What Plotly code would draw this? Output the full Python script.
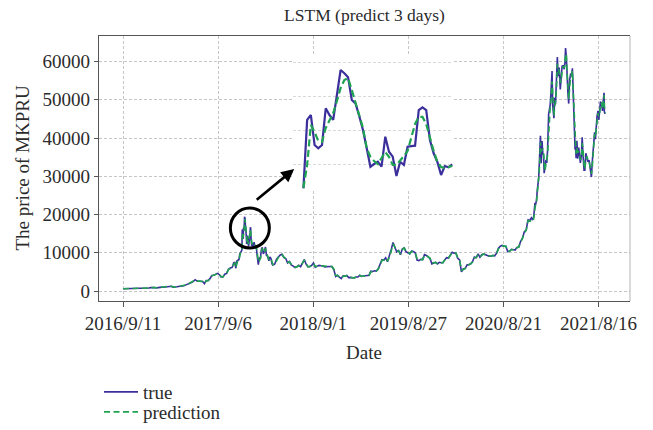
import plotly.graph_objects as go

# ---------------------------------------------------------------
# MKPRU price series, x = day index (day 0 = 2016/9/11)
# ---------------------------------------------------------------

# 2016/9/11 .. 2017/10/29, weekly
days_a = list(range(0, 414, 7))
true_a = [607, 610, 602, 610, 617, 640, 655, 700, 712, 703, 731, 735, 765, 771, 790,
          890, 998, 910, 820, 925, 917, 1015, 998, 1055, 1170, 1270, 1225, 1020, 970,
          1100, 1190, 1180, 1250, 1350, 1600, 1770, 2050, 2200, 2520, 2950, 2600, 2570,
          2500, 2500, 1930, 2750, 2720, 3230, 4050, 4100, 4350, 4600, 4300, 3700, 3670,
          4380, 4610, 5700, 6000, 6150]
pred_a = [605, 609, 604, 608, 615, 634, 650, 690, 708, 705, 726, 734, 758, 770, 786,
          872, 980, 925, 835, 910, 920, 1000, 1002, 1048, 1155, 1258, 1232, 1040, 975,
          1085, 1180, 1183, 1240, 1335, 1570, 1745, 2010, 2180, 2480, 2900, 2640, 2580,
          2510, 2505, 1990, 2700, 2725, 3170, 3960, 4090, 4320, 4570, 4330, 3760, 3665,
          4310, 4590, 5600, 5980, 6130]

# November 2017
days_b1 = [416, 419, 423, 427, 431, 435, 439, 442, 444, 447]
true_b1 = [6750, 7400, 7450, 5950, 7850, 8200, 8250, 9700, 9900, 10300]
pred_b1 = [6600, 7200, 7420, 6200, 7600, 8100, 8230, 9400, 9850, 10200]

# December 2017 - January 2018, daily (this window is also shown enlarged)
inset_days = list(range(450, 491))
inset_true = [10710, 15740, 16100, 13900, 13650, 13900, 16600, 16100, 15740, 17570,
              19410, 19170, 18880, 17210, 16960, 16030, 15000, 13680, 12300, 12500,
              12670, 12300, 14510, 13400, 13040, 11620, 12670, 12430, 13770, 13820,
              13850, 16470, 16670, 16470, 14270, 13290, 12650, 11690, 12350, 12260,
              12480]
inset_pred = [10740, 12430, 15370, 14850, 14190, 14120, 15150, 15740, 16250, 17130,
              18090, 18680, 18820, 17940, 17060, 16180, 15150, 13680, 13020, 12720,
              12500, 12940, 13380, 13020, 12430, 12430, 12720, 13090, 13460, 14410,
              15440, 15960, 15960, 15440, 14340, 13460, 12650, 12280, 12210, 12280,
              12350]

# late January - March 2018
days_b2 = [492, 496, 500, 504, 508, 512, 516, 520, 524, 527, 531, 535, 539, 543, 547,
           552, 556, 560, 564, 567]
true_b2 = [11400, 12800, 11200, 11700, 9100, 6900, 8600, 8600, 11000, 11400, 9700,
           10300, 11500, 9300, 9100, 7900, 8900, 8500, 7100, 6800]
pred_b2 = [11900, 12200, 11900, 11500, 10000, 7600, 7900, 8500, 10200, 11200, 10200,
           10100, 11100, 9900, 9200, 8300, 8500, 8600, 7600, 6950]

# April 2018 - November 2020, weekly
days_c1 = list(range(574, 1541, 7))
true_c1 = [7000, 8300, 8900, 9400, 9600, 8700, 8500, 7350, 7700, 6800,
           6500, 6150, 6350, 6750, 6350, 7400, 8200, 7000, 6300, 6400,
           6700, 7300, 6200, 6500, 6700, 6600, 6600, 6300, 6400, 6350,
           6400, 6400, 5550, 3800, 4100, 3600, 3250, 3950, 3850, 4050,
           3500, 3550, 3550, 3420, 3650, 3650, 4100, 3800, 3920, 4000,
           3990, 4100, 5200, 5100, 5300, 5200, 5800, 7000, 8200, 8050,
           8700, 7650, 9000, 10800, 12700, 11400, 10200, 10600, 9500, 11000,
           11300, 10300, 10100, 9700, 10400, 10300, 10000, 8100, 7950, 8300,
           8200, 9500, 9300, 8800, 8500, 7100, 7400, 7500, 7100, 7500,
           7400, 7400, 8200, 8700, 8600, 9350, 10150, 9900, 9900, 8550,
           8100, 5000, 5800, 5900, 6800, 6900, 7100, 7700, 8900, 8700,
           9700, 8800, 9500, 9700, 9400, 9300, 9100, 9100, 9300, 9200,
           9900, 11200, 11700, 11900, 11700, 11700, 10300, 10400, 10900, 10750,
           10700, 11400, 11500, 13000, 13800, 15500, 15900, 18700, 18200]
pred_c1 = [6950, 7900, 8800, 9250, 9550, 8850, 8450, 7500, 7600, 6950,
           6550, 6200, 6300, 6650, 6400, 7200, 8050, 7150, 6400, 6380,
           6650, 7200, 6350, 6450, 6650, 6620, 6580, 6350, 6390, 6360,
           6390, 6410, 5700, 4100, 4050, 3700, 3300, 3850, 3870, 4000,
           3580, 3540, 3560, 3440, 3620, 3660, 4050, 3850, 3900, 3990,
           3990, 4080, 5000, 5120, 5260, 5230, 5700, 6800, 8000, 8100,
           8600, 7800, 8800, 10400, 12300, 11500, 10400, 10500, 9650, 10800,
           11250, 10450, 10150, 9750, 10300, 10320, 10050, 8400, 8000, 8250,
           8220, 9300, 9350, 8850, 8550, 7300, 7350, 7480, 7150, 7450,
           7420, 7380, 8100, 8650, 8620, 9250, 10050, 9950, 9880, 8700,
           8150, 5400, 5700, 5880, 6650, 6900, 7080, 7600, 8700, 8750,
           9550, 8950, 9400, 9680, 9420, 9320, 9130, 9100, 9280, 9210,
           9800, 11000, 11650, 11850, 11720, 11680, 10500, 10380, 10850, 10760,
           10710, 11300, 11480, 12800, 13750, 15200, 15850, 18400, 18300]

# December 2020 - 2021/9/10
days_c2 = [1542, 1546, 1550, 1554, 1557, 1559, 1562, 1565, 1568, 1570,
           1573, 1575, 1578, 1580, 1583, 1586, 1589, 1592, 1594, 1597,
           1601, 1604, 1607, 1611, 1614, 1617, 1620, 1624, 1626, 1629,
           1631, 1634, 1637, 1641, 1644, 1647, 1651, 1655, 1658, 1662,
           1666, 1670, 1673, 1675, 1678, 1680, 1684, 1687, 1690, 1694,
           1698, 1701, 1704, 1707, 1711, 1713, 1715, 1718, 1721, 1725,
           1728, 1731, 1735, 1738, 1741, 1745, 1748, 1752, 1756, 1760,
           1764, 1768, 1771, 1773, 1776, 1779, 1783, 1785, 1788, 1791,
           1794, 1798, 1801, 1804, 1807, 1811, 1815, 1818, 1821, 1822,
           1825]
true_c2 = [18800, 19150, 18550, 19200, 21300, 22800, 22700, 23700, 26300, 27100,
           29300, 32000, 36800, 40600, 33400, 39200, 36000, 35500, 30800, 32300,
           34300, 33500, 36900, 46200, 47900, 48700, 52100, 57500, 48800, 46300,
           45200, 50500, 48800, 56000, 61200, 56200, 58400, 52700, 55900, 58800,
           58900, 58000, 59800, 63500, 61300, 56200, 51700, 49000, 55000, 56600,
           56400, 58200, 49500, 46800, 37000, 37300, 34700, 39300, 34600, 37500,
           35500, 33500, 35500, 40200, 35800, 31600, 31600, 36000, 34800, 33800,
           34200, 31800, 31500, 29800, 33600, 37300, 40000, 41500, 39700, 44600,
           45600, 47100, 44700, 47000, 49500, 49000, 47100, 50000, 51800, 46800,
           46300]
pred_c2 = [18300, 19000, 18900, 18800, 20200, 22100, 23000, 23300, 25200, 26800,
           28500, 30800, 34500, 38900, 36500, 36800, 37200, 35800, 32500, 31400,
           33200, 34000, 35600, 42000, 46800, 48200, 50300, 54800, 52600, 47800,
           45800, 48200, 49600, 53100, 59400, 58300, 57300, 54800, 54500, 57600,
           58700, 58400, 59100, 61800, 62000, 58400, 53400, 50200, 52600, 55800,
           56500, 57600, 52600, 48100, 40500, 37200, 35900, 37400, 36300, 36400,
           36100, 34300, 34600, 38600, 37300, 33200, 31900, 34200, 35200, 34200,
           34000, 32600, 31700, 30600, 32200, 35700, 38800, 41000, 40300, 42800,
           45200, 46500, 45600, 46200, 48600, 49200, 47600, 49100, 51200, 48400,
           46600]

days = days_a + days_b1 + inset_days + days_b2 + days_c1 + days_c2
true_price = true_a + true_b1 + inset_true + true_b2 + true_c1 + true_c2
pred_price = pred_a + pred_b1 + inset_pred + pred_b2 + pred_c1 + pred_c2

tick_days = [0, 360, 720, 1080, 1440, 1800]
tick_labels = ["2016/9/11", "2017/9/6", "2018/9/1", "2019/8/27", "2020/8/21", "2021/8/16"]
price_ticks = [0, 10000, 20000, 30000, 40000, 50000, 60000]
inset_ticks = [12500, 15000, 17500, 20000]

TRUE_COLOR = "#3b2f9c"
PRED_COLOR = "#1fa352"
SERIF = "Liberation Serif"
TEXT = "#2b2b2b"
FS = 19

fig = go.Figure()

fig.add_trace(go.Scatter(x=days, y=true_price, mode="lines", name="true",
                         legend="legend",
                         line=dict(color=TRUE_COLOR, width=1.6)))
fig.add_trace(go.Scatter(x=days, y=pred_price, mode="lines", name="prediction",
                         legend="legend2",
                         line=dict(color=PRED_COLOR, width=1.6, dash="6px,3.5px")))

# enlarged view of the December 2017 peak
fig.add_trace(go.Scatter(x=inset_days, y=inset_true, mode="lines", showlegend=False,
                         line=dict(color=TRUE_COLOR, width=2.2),
                         xaxis="x2", yaxis="y2"))
fig.add_trace(go.Scatter(x=inset_days, y=inset_pred, mode="lines", showlegend=False,
                         line=dict(color=PRED_COLOR, width=2.2, dash="7px,3.5px"),
                         xaxis="x2", yaxis="y2"))

grid = dict(showgrid=True, gridcolor="#c6c6c6", gridwidth=1, griddash="3px,2px",
            zeroline=False)

legend_common = dict(xanchor="left", yanchor="middle", bgcolor="rgba(0,0,0,0)",
                     font=dict(size=FS, color=TEXT), itemwidth=34)

fig.update_layout(
    width=653, height=430,
    margin=dict(l=99, r=23, t=36, b=129, autoexpand=False),
    paper_bgcolor="white", plot_bgcolor="white",
    font=dict(family=SERIF, size=FS, color=TEXT),
    title=dict(text="LSTM (predict 3 days)", x=(364.5 / 653), xanchor="center",
               y=1 - 15 / 430, yanchor="middle", font=dict(size=17.5, color=TEXT)),
    xaxis=dict(range=[-91, 1919], tickmode="array", tickvals=tick_days, ticktext=tick_labels,
               ticks="outside", ticklen=5, tickcolor="#555", showline=True, linecolor="#555",
               linewidth=1.2, mirror=True, tickfont=dict(size=FS), **grid),
    yaxis=dict(range=[-2614, 66667], tickmode="array", tickvals=price_ticks,
               tickformat="d", ticks="outside", ticklen=4, tickcolor="#555",
               showline=True, linecolor="#555", linewidth=1.2, tickfont=dict(size=FS),
               **grid),
    xaxis2=dict(domain=[(293 - 99) / 531, (453 - 99) / 531], anchor="y2",
                range=[447.2, 490.2], showgrid=False, showticklabels=False,
                ticks="", showline=False, zeroline=False),
    yaxis2=dict(domain=[(301 - 191) / 265, (301 - 55) / 265], anchor="x2",
                range=[10515, 20515], tickmode="array", tickvals=inset_ticks,
                showticklabels=False, ticks="", showline=False, zeroline=False,
                showgrid=True, gridcolor="#d9d9d9", gridwidth=1, griddash="3px,2px"),
    legend=dict(x=0.0, y=(301 - 392) / 265, **legend_common),
    legend2=dict(x=0.0, y=(301 - 412) / 265, **legend_common),
    showlegend=True,
)

# white backing for the enlarged view so the main grid stays hidden behind it
fig.add_shape(type="rect", xref="x2 domain", yref="y2 domain", x0=0, x1=1, y0=0, y1=1,
              fillcolor="white", line=dict(width=0), layer="below")

# light right-hand frame edge
fig.add_shape(type="line", xref="paper", yref="paper", x0=1, x1=1, y0=0, y1=1,
              line=dict(color="#b5b5b5", width=1))

# circle around the December 2017 peak
fig.add_shape(type="circle", xref="x", yref="y", xsizemode="pixel", ysizemode="pixel",
              xanchor=480, yanchor=16470, x0=-19.5, x1=19.5, y0=-20, y1=20,
              line=dict(color="black", width=3))

# arrow pointing to the enlarged view
fig.add_annotation(x=648, y=31900, xref="x", yref="y", ax=-39, ay=32, text="",
                   showarrow=True, arrowhead=2, arrowsize=1, arrowwidth=2.6,
                   arrowcolor="black")

# axis titles
fig.add_annotation(text="Date", xref="paper", yref="paper", x=(364 - 99) / 531,
                   y=(301 - 352) / 265, showarrow=False, xanchor="center",
                   yanchor="middle", font=dict(size=FS, color=TEXT))
fig.add_annotation(text="The price of MKPRU", xref="paper", yref="paper",
                   x=(22 - 99) / 531, y=0.5, textangle=-90, showarrow=False,
                   xanchor="center", yanchor="middle", font=dict(size=FS, color=TEXT))

fig.write_html("out.html")
